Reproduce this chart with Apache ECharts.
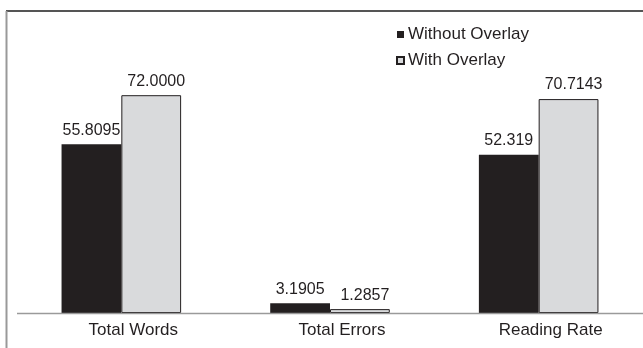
<!DOCTYPE html>
<html>
<head>
<meta charset="utf-8">
<script src="https://cdn.jsdelivr.net/npm/echarts@6/dist/echarts.min.js"></script>
<style>
  html, body { margin: 0; padding: 0; background: #fff; }
  #chart { width: 643px; height: 348px; }
</style>
</head>
<body>
<div id="chart"></div>
<script>
// Reading measures, with and without the coloured overlay
const categories = ['Total Words', 'Total Errors', 'Reading Rate'];
const withoutOverlay = [55.8095, 3.1905, 52.319];
const withOverlay = [72.0000, 1.2857, 70.7143];
const withoutLabels = ['55.8095', '3.1905', '52.319'];
const withLabels = ['72.0000', '1.2857', '70.7143'];

const FONT = '"Liberation Sans", Arial, sans-serif';
const INK = '#231f20';

const chart = echarts.init(document.getElementById('chart'));

function labelFrom(texts, dx) {
  return {
    show: true,
    position: 'top',
    distance: 6,
    offset: [dx, 0],
    fontFamily: FONT,
    fontSize: 16,
    color: INK,
    formatter: p => texts[p.dataIndex]
  };
}

chart.setOption({
  animation: false,
  grid: { left: 17, width: 628.5, top: 10.5, bottom: 35, containLabel: false },
  legend: {
    orient: 'vertical',
    left: 391,
    top: 21,
    itemWidth: 7,
    itemHeight: 7,
    itemGap: 9,
    icon: 'rect',
    textStyle: { fontFamily: FONT, fontSize: 17, color: INK, padding: [0, 0, 0, -1] },
    data: ['Without Overlay', 'With Overlay']
  },
  xAxis: {
    type: 'category',
    data: categories,
    axisLine: { show: false },
    axisTick: { show: false },
    axisLabel: {
      fontFamily: FONT,
      fontSize: 17,
      color: INK,
      margin: 9,
      padding: [0, 0, 0, 24]
    }
  },
  yAxis: {
    type: 'value',
    min: 0,
    max: 100,
    show: false,
    splitLine: { show: false }
  },
  graphic: [
    // chart frame (top and left edges)
    { type: 'line', shape: { x1: 6, y1: 11, x2: 643, y2: 11 }, style: { stroke: '#555', lineWidth: 2 } },
    { type: 'line', shape: { x1: 6.5, y1: 11, x2: 6.5, y2: 348 }, style: { stroke: '#999', lineWidth: 2 } },
    // category baseline
    { type: 'line', z: 10, shape: { x1: 17, y1: 313.5, x2: 643, y2: 313.5 }, style: { stroke: '#9a9a9a', lineWidth: 1.5 } }
  ],
  series: [
    {
      name: 'Without Overlay',
      type: 'bar',
      data: withoutOverlay,
      barGap: 0,
      barCategoryGap: '42.7%',
      itemStyle: { color: INK },
      label: labelFrom(withoutLabels, 0)
    },
    {
      name: 'With Overlay',
      type: 'bar',
      data: withOverlay,
      itemStyle: { color: '#d9dadc', borderColor: INK, borderWidth: 1 },
      label: labelFrom(withLabels, 5)
    }
  ]
});
</script>
</body>
</html>
